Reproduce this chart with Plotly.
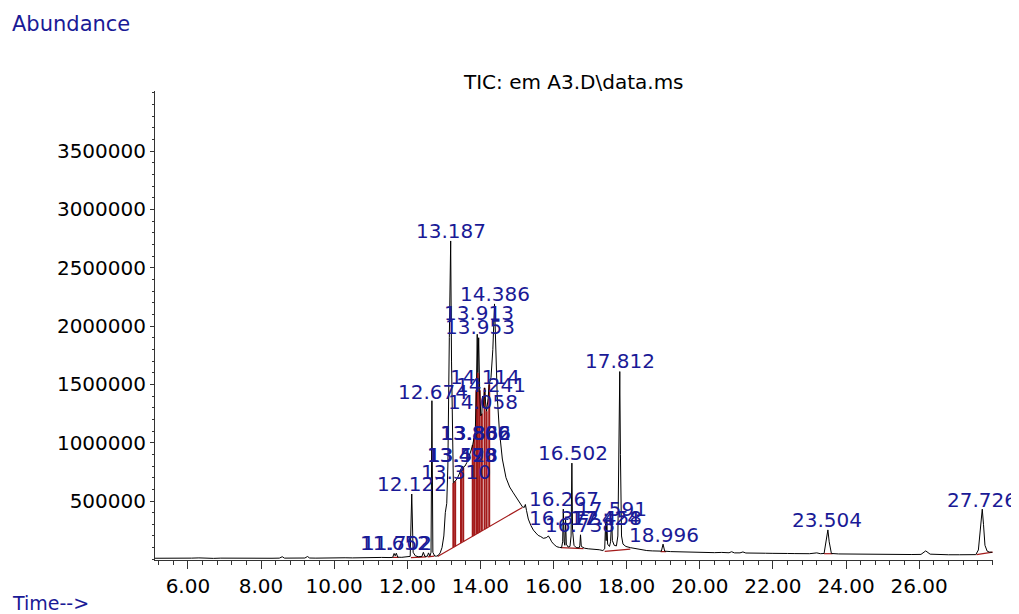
import plotly.graph_objects as go

# ---------------- data ----------------
rt = [5.10, 5.30, 5.50, 5.70, 5.90, 6.10, 6.30, 6.50, 6.70, 6.90, 7.10, 7.30, 7.50, 7.70, 7.90,
      8.10, 8.30, 8.50, 8.58, 8.64, 8.80, 9.00, 9.20, 9.27, 9.33, 9.50, 9.70, 9.90, 10.10, 10.30,
      10.50, 10.70, 10.90, 11.10, 11.30, 11.50, 11.60, 11.64, 11.67, 11.70, 11.74, 11.85, 12.00,
      12.08, 12.122, 12.16, 12.22, 12.30, 12.40, 12.44, 12.48, 12.55, 12.58, 12.62, 12.65, 12.674,
      12.70, 12.75, 12.80, 12.85, 12.90, 12.95, 13.00, 13.04, 13.08, 13.11, 13.15, 13.187, 13.21,
      13.24, 13.26, 13.31, 13.36, 13.42, 13.47, 13.50, 13.53, 13.58, 13.63, 13.68, 13.73, 13.79,
      13.83, 13.86, 13.89, 13.913, 13.93, 13.953, 13.98, 14.01, 14.04, 14.058, 14.08, 14.114,
      14.14, 14.17, 14.21, 14.241, 14.29, 14.34, 14.386, 14.42, 14.46, 14.52, 14.60, 14.70, 14.80,
      14.90, 15.00, 15.08, 15.15, 15.20, 15.23, 15.26, 15.31, 15.38, 15.45, 15.52, 15.58, 15.65,
      15.72, 15.80, 15.86, 15.91, 15.95, 16.02, 16.09, 16.16, 16.22, 16.25, 16.267, 16.29, 16.31,
      16.33, 16.35, 16.40, 16.45, 16.48, 16.502, 16.52, 16.56, 16.62, 16.70, 16.72, 16.738, 16.76,
      16.85, 16.95, 17.05, 17.15, 17.25, 17.35, 17.40, 17.424, 17.44, 17.458, 17.48, 17.53, 17.56,
      17.591, 17.61, 17.66, 17.72, 17.76, 17.79, 17.812, 17.83, 17.86, 17.90, 17.98, 18.10, 18.25,
      18.40, 18.55, 18.70, 18.85, 18.95, 18.996, 19.04, 19.20, 19.40, 19.60, 19.80, 20.00, 20.20,
      20.40, 20.60, 20.80, 20.87, 20.95, 21.10, 21.18, 21.26, 21.40, 21.60, 21.80, 22.00, 22.20,
      22.40, 22.60, 22.80, 23.00, 23.20, 23.30, 23.40, 23.46, 23.504, 23.54, 23.60, 23.80, 24.00,
      24.30, 24.60, 24.90, 25.20, 25.50, 25.80, 26.05, 26.18, 26.30, 26.50, 26.80, 27.10, 27.40,
      27.55, 27.62, 27.68, 27.726, 27.76, 27.80, 27.86, 27.92, 28.00]
abundance = [9000, 8000, 10000, 9000, 11000, 10000, 12000, 9000, 8000, 10000, 9000, 8000, 9000, 10000, 9000,
             8000, 9000, 10000, 22000, 10000, 9000, 10000, 11000, 24000, 11000, 10000, 12000, 11000, 12000, 13000,
             12000, 14000, 13000, 15000, 16000, 15000, 16000, 50000, 30000, 52000, 18000, 17000, 19000,
             25000, 560000, 60000, 30000, 22000, 24000, 60000, 25000, 26000, 55000, 28000, 60000, 1360000,
             60000, 28000, 27000, 35000, 55000, 100000, 200000, 400000, 480000, 800000, 1900000, 2730000, 1700000,
             850000, 655000, 670000, 690000, 730000, 770000, 800000, 790000, 800000, 830000, 870000, 920000, 980000,
             1040000, 1100000, 1450000, 1930000, 1600000, 1900000, 1450000, 1230000, 1250000, 1400000, 1300000, 1470000,
             1350000, 1270000, 1380000, 1500000, 1560000, 1800000, 2190000, 1800000, 1400000, 1100000, 860000, 700000, 620000,
             570000, 520000, 480000, 450000, 445000, 470000, 420000, 345000, 290000, 250000, 225000, 205000, 195000,
             180000, 185000, 200000, 175000, 150000, 125000, 108000, 102000, 100000, 150000, 430000, 150000, 120000,
             340000, 130000, 105000, 110000, 200000, 825000, 250000, 120000, 100000, 98000, 120000, 210000, 110000,
             95000, 90000, 88000, 85000, 82000, 75000, 90000, 320000, 160000, 330000, 130000, 110000, 150000,
             350000, 160000, 120000, 115000, 200000, 900000, 1610000, 900000, 200000, 130000, 110000, 100000, 90000,
             82000, 75000, 72000, 68000, 70000, 130000, 70000, 66000, 64000, 62000, 63000, 60000, 58000,
             57000, 59000, 56000, 65000, 55000, 55000, 63000, 54000, 55000, 53000, 52000, 51000, 53000,
             50000, 49000, 48000, 48000, 55000, 48000, 50000, 150000, 252000, 150000, 50000, 46000, 45000,
             45000, 44000, 44000, 43000, 42000, 41000, 42000, 72000, 44000, 40000, 39000, 39000, 38000,
             40000, 80000, 300000, 430000, 300000, 120000, 70000, 62000, 60000]

# integration baselines (start rt, start value, end rt, end value)
bl_rt0 = [12.83, 11.60, 12.10, 12.56, 16.20, 17.40, 18.93, 23.40, 27.57]
bl_y0 = [24000, 16000, 15000, 20000, 100000, 68000, 65000, 48000, 40000]
bl_rt1 = [15.15, 11.76, 12.52, 12.74, 16.82, 18.10, 19.08, 23.63, 28.01]
bl_y1 = [445000, 17000, 20000, 27000, 92000, 88000, 66000, 48000, 62000]

# drop lines inside the big cluster (rt, top value on the trace)
drop_rt = [13.26, 13.31, 13.47, 13.53, 13.79, 13.83, 13.89, 13.93, 13.98, 14.04, 14.114, 14.17, 14.241]
drop_top = [655000, 670000, 770000, 790000, 980000, 1040000, 1450000, 1600000, 1450000, 1250000, 1470000, 1270000, 1500000]

# peak labels (text, rt of label centre, abundance of label centre)
peak_text = ["13.187", "14.386", "13.913", "13.953", "14.114", "14.241", "12.674", "14.058",
             "13.806", "13.836", "13.862", "13.470", "13.493", "13.528", "13.310", "12.122",
             "16.502", "17.812", "16.267", "17.591", "16.372", "17.424", "17.458", "16.738",
             "18.996", "23.504", "27.726", "11.652", "11.702"]
peak_label_rt = [13.187, 14.386, 13.96, 13.98, 14.13, 14.28, 12.70, 14.07,
                 13.85, 13.87, 13.89, 13.49, 13.51, 13.53, 13.33, 12.12,
                 16.53, 17.81, 16.29, 17.60, 16.30, 17.42, 17.47, 16.73,
                 19.02, 23.49, 27.726, 11.67, 11.72]
peak_label_y = [2816000, 2276000, 2113000, 1993000, 1563000, 1495000, 1435000, 1349000,
                1083000, 1083000, 1083000, 895000, 895000, 895000, 749000, 646000,
                912000, 1701000, 517000, 431000, 354000, 354000, 354000, 294000,
                209000, 337000, 509000, 140000, 140000]

x_tick_vals = [6, 8, 10, 12, 14, 16, 18, 20, 22, 24, 26]
x_tick_text = ["6.00", "8.00", "10.00", "12.00", "14.00", "16.00", "18.00", "20.00", "22.00", "24.00", "26.00"]
y_tick_vals = [500000, 1000000, 1500000, 2000000, 2500000, 3000000, 3500000]
y_tick_text = ["500000", "1000000", "1500000", "2000000", "2500000", "3000000", "3500000"]

BLUE = "#1a1a96"
RED = "#a31a1a"
FONT = "DejaVu Sans"

fig = go.Figure()

# red integration baselines
bx, by = [], []
for a, b, c, d in zip(bl_rt0, bl_y0, bl_rt1, bl_y1):
    bx += [a, c, None]
    by += [b, d, None]
fig.add_trace(go.Scatter(x=bx, y=by, mode="lines", line=dict(color=RED, width=1.2),
                         hoverinfo="skip", showlegend=False))

# red drop lines from the cluster baseline up to the trace
x0, y0, x1, y1 = bl_rt0[0], bl_y0[0], bl_rt1[0], bl_y1[0]
dx, dy = [], []
for t, top in zip(drop_rt, drop_top):
    base = y0 + (y1 - y0) * (t - x0) / (x1 - x0)
    dx += [t, t, None]
    dy += [base, top, None]
fig.add_trace(go.Scatter(x=dx, y=dy, mode="lines", line=dict(color=RED, width=2),
                         hoverinfo="skip", showlegend=False))

# TIC trace
fig.add_trace(go.Scatter(x=rt, y=abundance, mode="lines", line=dict(color="black", width=1),
                         showlegend=False))

annotations = []
for txt, t, v in zip(peak_text, peak_label_rt, peak_label_y):
    annotations.append(dict(x=t, y=v, xref="x", yref="y", text=txt, showarrow=False,
                            xanchor="center", yanchor="middle",
                            font=dict(family=FONT, size=20, color=BLUE)))

annotations += [
    dict(x=-0.173, y=1.143, xref="paper", yref="paper", text="Abundance", showarrow=False,
         xanchor="left", yanchor="middle", font=dict(family=FONT, size=21, color=BLUE)),
    dict(x=-0.173, y=-0.092, xref="paper", yref="paper", text="Time-->", showarrow=False,
         xanchor="left", yanchor="middle", font=dict(family=FONT, size=19, color=BLUE)),
    dict(x=0.499, y=1.019, xref="paper", yref="paper", text="TIC: em A3.D\\data.ms", showarrow=False,
         xanchor="center", yanchor="middle", font=dict(family=FONT, size=20, color="black")),
]

# the page body has an 8 px margin, so the figure is 8 px smaller and margins compensate
fig.update_layout(
    width=1011, height=606,
    margin=dict(l=147, r=26, t=83, b=54),
    paper_bgcolor="white", plot_bgcolor="white",
    annotations=annotations,
    showlegend=False,
)
fig.update_xaxes(
    range=[5.1, 28.02], showgrid=False, zeroline=False,
    showline=True, linecolor="#333333", linewidth=1,
    tickmode="array", tickvals=x_tick_vals, ticktext=x_tick_text,
    ticks="outside", ticklen=8, tickcolor="#333333",
    tickfont=dict(family=FONT, size=20, color="black"),
    minor=dict(tick0=6, dtick=0.4, ticks="outside", ticklen=4, tickcolor="#333333"),
)
fig.update_yaxes(
    range=[-6000, 4016000], showgrid=False, zeroline=False,
    showline=True, linecolor="#333333", linewidth=1,
    tickmode="array", tickvals=y_tick_vals, ticktext=y_tick_text,
    ticks="outside", ticklen=4, tickcolor="#333333",
    tickfont=dict(family=FONT, size=20, color="black"),
    minor=dict(tick0=0, dtick=100000, ticks="outside", ticklen=2, tickcolor="#333333"),
)

fig.write_html("out.html")
